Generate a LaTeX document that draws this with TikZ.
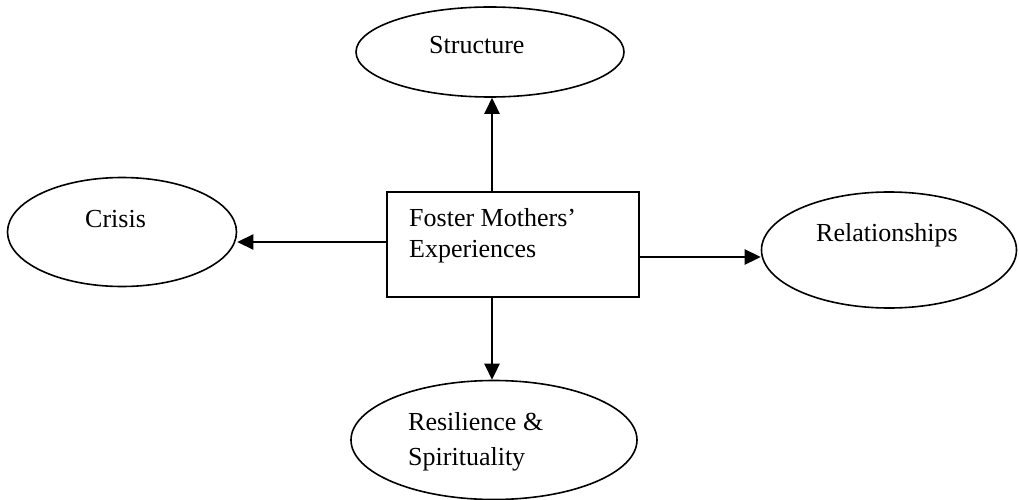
\documentclass[tikz,border=0pt]{standalone}
\usepackage{fontspec}
\setmainfont{Liberation Serif}
\usetikzlibrary{shapes.geometric,arrows.meta}
\begin{document}
\begin{tikzpicture}[x=1pt,y=-1pt,
  oval/.style={draw,ellipse,line width=1.6pt,inner sep=0pt},
  boxed/.style={draw,rectangle,line width=1.6pt,inner sep=0pt},
  lbl/.style={inner sep=0pt,anchor=base west,font=\fontsize{26}{31}\selectfont},
  conn/.style={line width=2.6pt,-{Triangle[length=16pt,width=15pt]}}]
\useasboundingbox (0,0) rectangle (1019,500);
\node[oval,minimum width=268pt,minimum height=90pt] (s) at (490,52) {};
\node[oval,minimum width=229pt,minimum height=109pt] (c) at (122,232) {};
\node[oval,minimum width=255pt,minimum height=116pt] (rl) at (889,250) {};
\node[oval,minimum width=286pt,minimum height=119pt] (rs) at (494,440) {};
\node[boxed,minimum width=252pt,minimum height=105pt] (b) at (513,244.5) {};
\node[lbl] (ts) at (429,54) {Structure};
\node[lbl] (tc) at (85,227) {Crisis};
\node[lbl] (tr) at (816,241) {Relationships};
\node[lbl] (tb1) at (409,226) {Foster Mothers’};
\node[lbl] (tb2) at (409,257) {Experiences};
\node[lbl] (tr1) at (408,430) {Resilience \&};
\node[lbl] (tr2) at (408,465) {Spirituality};
\coordinate (ux) at (492,0);
\draw[conn] (b.north -| ux) -- (s.south -| ux);
\draw[conn] (b.south -| ux) -- (rs.north -| ux);
\coordinate (ly) at (0,242);
\draw[conn] (b.west |- ly) -- (c.east |- ly);
\coordinate (ry) at (0,257);
\draw[conn] (b.east |- ry) -- (rl.west |- ry);
\end{tikzpicture}
\end{document}
